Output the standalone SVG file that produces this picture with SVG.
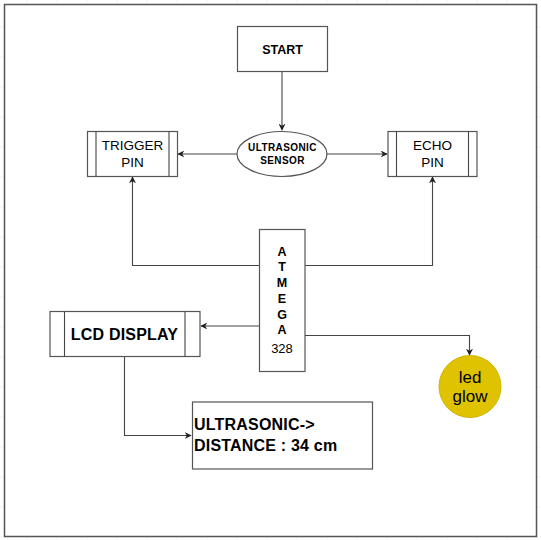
<svg xmlns="http://www.w3.org/2000/svg" width="541" height="540" viewBox="0 0 541 540">
<defs>
<pattern id="grid" x="-2.5" y="-2.5" width="30" height="30" patternUnits="userSpaceOnUse">
<path d="M30 0V30M0 30H30" fill="none" stroke="#e4e4e4" stroke-width="1"/>
</pattern>
<marker id="arr" viewBox="0 0 10 10" refX="9" refY="5" markerWidth="7" markerHeight="7" markerUnits="userSpaceOnUse" orient="auto">
<path d="M0 0L10 5L0 10L3 5Z" fill="#222"/>
</marker>
<style>
.box{fill:#fff;stroke:#555;stroke-width:1.2}
.ln{fill:none;stroke:#444;stroke-width:1.1}
.t{font-family:"Liberation Sans",Arial,sans-serif;fill:#000;text-anchor:middle}
.b{font-weight:bold}
.s{text-anchor:start}
</style>
</defs>
<rect width="541" height="540" fill="#fff"/>
<rect width="541" height="540" fill="url(#grid)"/>
<rect x="4.5" y="4.5" width="532" height="532" fill="#fff" stroke="#555" stroke-width="1.5"/>

<g id="connectors">
<line class="ln" x1="282" y1="72" x2="282" y2="130" marker-end="url(#arr)"/>
<line class="ln" x1="237" y1="154" x2="178" y2="154" marker-end="url(#arr)"/>
<line class="ln" x1="327" y1="154" x2="387" y2="154" marker-end="url(#arr)"/>
<polyline class="ln" points="259.5,265.5 132.5,265.5 132.5,177" marker-end="url(#arr)"/>
<polyline class="ln" points="305,265.5 432.5,265.5 432.5,177" marker-end="url(#arr)"/>
<line class="ln" x1="259.5" y1="326" x2="201" y2="326" marker-end="url(#arr)"/>
<polyline class="ln" points="305,335.5 469.5,335.5 469.5,355" marker-end="url(#arr)"/>
<polyline class="ln" points="124.5,356 124.5,435.5 191,435.5" marker-end="url(#arr)"/>
</g>

<g id="start">
<rect class="box" x="237.5" y="26.5" width="90" height="45"/>
<text class="t b" x="282.5" y="54" font-size="12.5">START</text>
</g>

<g id="sensor">
<ellipse class="box" cx="282" cy="154" rx="45" ry="22.5"/>
<text class="t b" x="282.5" y="151" font-size="10" letter-spacing="0.4">ULTRASONIC</text>
<text class="t b" x="282.5" y="163.5" font-size="10" letter-spacing="0.4">SENSOR</text>
</g>

<g id="trigger">
<rect class="box" x="87.5" y="131.5" width="90" height="45"/>
<line class="ln" x1="96" y1="131.5" x2="96" y2="176.5"/>
<line class="ln" x1="169" y1="131.5" x2="169" y2="176.5"/>
<text class="t" x="132.5" y="150" font-size="13.5">TRIGGER</text>
<text class="t" x="132.5" y="167" font-size="13.5">PIN</text>
</g>

<g id="echo">
<rect class="box" x="388" y="131.5" width="89" height="45"/>
<line class="ln" x1="396.5" y1="131.5" x2="396.5" y2="176.5"/>
<line class="ln" x1="468.5" y1="131.5" x2="468.5" y2="176.5"/>
<text class="t" x="432.5" y="150" font-size="13.5">ECHO</text>
<text class="t" x="432.5" y="167" font-size="13.5">PIN</text>
</g>

<g id="atmega">
<rect class="box" x="259.5" y="229.5" width="45.5" height="142"/>
<text class="t b" x="282" y="255.5" font-size="12.5">A</text>
<text class="t b" x="282" y="271" font-size="12.5">T</text>
<text class="t b" x="282" y="287" font-size="12.5">M</text>
<text class="t b" x="282" y="303" font-size="12.5">E</text>
<text class="t b" x="282" y="318.5" font-size="12.5">G</text>
<text class="t b" x="282" y="334" font-size="12.5">A</text>
<text class="t" x="282" y="353" font-size="13">328</text>
</g>

<g id="lcd">
<rect class="box" x="50" y="311.5" width="150" height="45"/>
<line class="ln" x1="64.5" y1="311.5" x2="64.5" y2="356.5"/>
<line class="ln" x1="185" y1="311.5" x2="185" y2="356.5"/>
<text class="t b" x="124.5" y="340" font-size="16" letter-spacing="0.2">LCD DISPLAY</text>
</g>

<g id="led">
<circle cx="470" cy="386.5" r="31" fill="#dfc300" stroke="#d0b400" stroke-width="1"/>
<text class="t" x="470" y="383" font-size="17" fill="#222">led</text>
<text class="t" x="470" y="402" font-size="17" fill="#222">glow</text>
</g>

<g id="distance">
<rect class="box" x="192.5" y="402" width="180" height="67"/>
<text class="t b s" x="194" y="430" font-size="16" letter-spacing="0.2">ULTRASONIC-&gt;</text>
<text class="t b s" x="194" y="450.5" font-size="16" letter-spacing="0.2">DISTANCE : 34 cm</text>
</g>
</svg>
